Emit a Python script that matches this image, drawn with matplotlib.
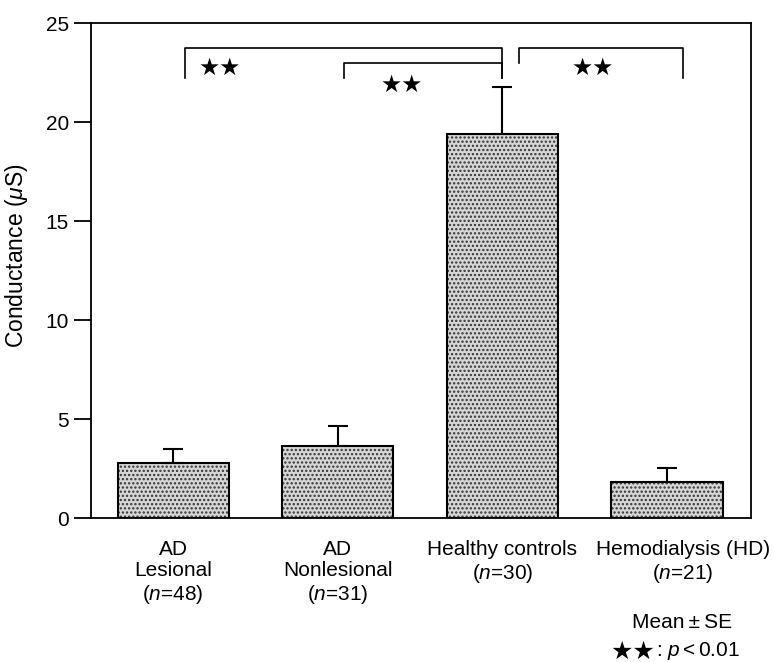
import matplotlib
matplotlib.use("Agg")

import matplotlib.pyplot as plt
import matplotlib.transforms as mtransforms

# group labels and values
groups = [
    "AD\nLesional\n($\\it{n}$=48)",
    "AD\nNonlesional\n($\\it{n}$=31)",
    "Healthy controls\n($\\it{n}$=30)",
    "Hemodialysis (HD)\n($\\it{n}$=21)",
]
means = [2.78, 3.63, 19.38, 1.82]
errors = [0.70, 1.01, 2.38, 0.70]

# significance brackets: (left bar, right bar, bracket top, left leg bottom, star offset)
comparisons = [(0, 2, 23.73, 22.21, 0.21), (1, 2, 22.97, 22.21, 0.35), (2, 3, 23.73, 22.97, 0.45)]
bracket_bottom = 22.21
yticks = [0, 5, 10, 15, 20, 25]

plt.rcParams["font.family"] = ["Liberation Sans", "DejaVu Sans"]
plt.rcParams["mathtext.fontset"] = "custom"
plt.rcParams["mathtext.rm"] = "Liberation Sans"
plt.rcParams["mathtext.it"] = "Liberation Sans:italic"
plt.rcParams["hatch.linewidth"] = 1.1
plt.rcParams["hatch.color"] = "#333333"

fig = plt.figure(figsize=(7.73, 6.62), dpi=100)
ax = fig.add_axes([0.1177, 0.2175, 0.8538, 0.7477])

x = list(range(len(groups)))
width = 0.675

# stippled fill, then a black outline on top
ax.bar(x, means, width=width, color="#d6d6d6", hatch="....", edgecolor="#333333", linewidth=0, zorder=2)
ax.bar(x, means, width=width, fill=False, edgecolor="black", linewidth=1.5, zorder=3)
ax.errorbar(x, means, yerr=[[0] * len(means), errors], fmt="none", ecolor="black",
            elinewidth=1.5, capsize=7.5, capthick=1.5, zorder=3)

# brackets with stars
for i, j, top, left_bottom, star_dx in comparisons:
    xl = i + (0.07 if i == 0 else 0.04 if i == 1 else 0.1)
    xr = j + (0.1 if i == 2 else 0.0)
    ax.plot([xl, xl, xr, xr], [left_bottom, top, top, bracket_bottom],
            color="black", linewidth=1.2, zorder=3)
    ax.text(xl + star_dx, top - 1.0 if i != 1 else top - 1.1, "★★", ha="center", va="center",
            fontsize=17, family="DejaVu Sans")

ax.set_xlim(-0.5, 3.51)
ax.set_ylim(0, 25)
ax.set_yticks(yticks)
ax.set_xticks(x)
ax.set_xticklabels(groups, fontsize=15, linespacing=1.15)
ax.tick_params(axis="x", length=0, pad=16)
ax.tick_params(axis="y", direction="out", length=12, width=1.3, pad=4, labelsize=15)
for spine in ax.spines.values():
    spine.set_linewidth(1.3)

# the last label sits a little right of its bar in the original
last = ax.get_xticklabels()[-1]
last.set_transform(last.get_transform() + mtransforms.ScaledTranslation(0.16, 0, fig.dpi_scale_trans))

ax.set_ylabel("Conductance ($\\mu$S)", fontsize=16.5)
ax.yaxis.set_label_coords(-0.093, 0.53)

fig.text(0.882, 0.059, "Mean\u2009±\u2009SE", ha="center", va="center", fontsize=15)
fig.text(0.848, 0.016, "★★", ha="right", va="center", fontsize=18, family="DejaVu Sans")
fig.text(0.849, 0.016, ": $\\mathit{p}<0.01$", ha="left", va="center", fontsize=15)

fig.savefig("out.png", dpi=100)
